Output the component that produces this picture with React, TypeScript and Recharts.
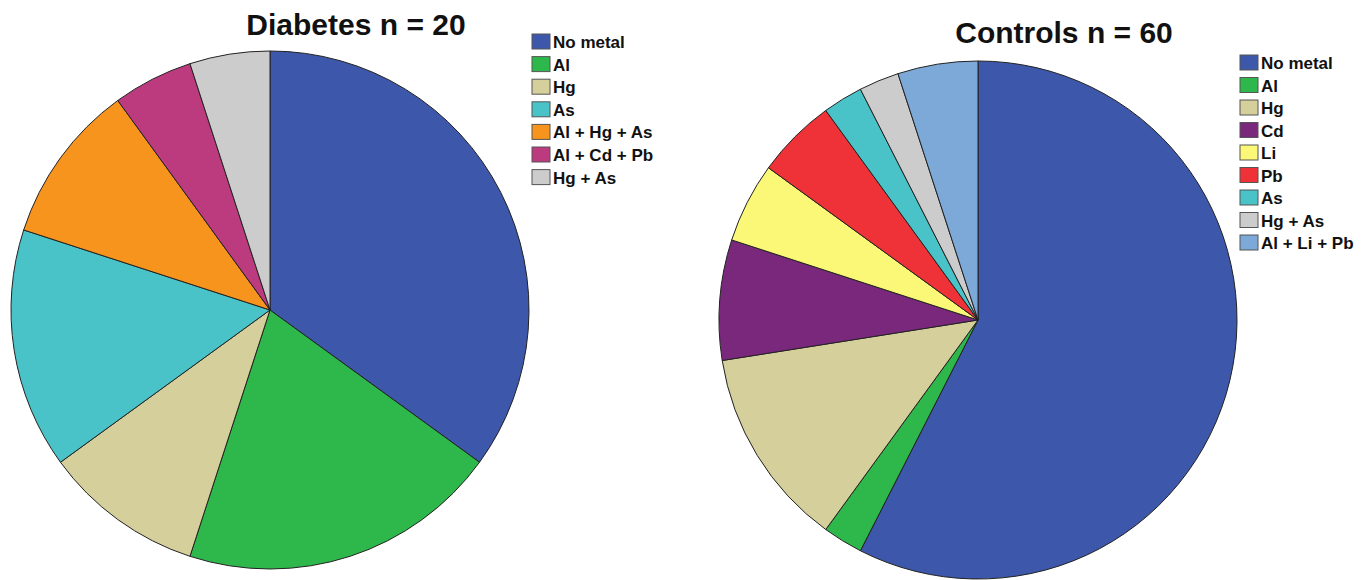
import React from 'react'
import { PieChart, Pie, Cell } from 'recharts'

// Diabetes group, percent of 20
const diabetesLabels = ['No metal', 'Al', 'Hg', 'As', 'Al + Hg + As', 'Al + Cd + Pb', 'Hg + As']
const diabetesValues = [35, 20, 10, 15, 10, 5, 5]
const diabetesColors = ['#3D58AB', '#2EB84B', '#D5CF9B', '#49C3C8', '#F7941E', '#BC3B7F', '#CCCCCC']

// Controls group, percent of 60
const controlLabels = ['No metal', 'Al', 'Hg', 'Cd', 'Li', 'Pb', 'As', 'Hg + As', 'Al + Li + Pb']
const controlValues = [57.5, 2.5, 12.5, 7.5, 5, 5, 2.5, 2.5, 5]
const controlColors = ['#3D58AB', '#2EB84B', '#D5CF9B', '#7A287C', '#FCF877', '#EE3237', '#49C3C8', '#CCCCCC', '#7DA9D8']

const W = 1369
const H = 580
const FONT = '"Liberation Sans", Arial, sans-serif'

const diabetesData = diabetesLabels.map((name, i) => ({ name, value: diabetesValues[i] }))
const controlData = controlLabels.map((name, i) => ({ name, value: controlValues[i] }))

function Legend({ x, y, labels, colors, step }: { x: number; y: number; labels: string[]; colors: string[]; step: number }) {
  return (
    <g>
      {labels.map((label, i) => (
        <g key={label} transform={`translate(${x}, ${y + i * step})`}>
          <rect x={0} y={0} width={18} height={15} fill={colors[i]} stroke="#555" strokeWidth={1} />
          <text x={21} y={14} fontFamily={FONT} fontWeight="bold" fontSize={17} fill="#111">
            {label}
          </text>
        </g>
      ))}
    </g>
  )
}

export default function App() {
  return (
    <div style={{ position: 'absolute', left: 0, top: 0, width: W, height: H, background: '#fff' }}>
      <PieChart width={W} height={H} margin={{ top: 0, right: 0, bottom: 0, left: 0 }}>
        <Pie
          data={diabetesData}
          dataKey="value"
          cx={270}
          cy={310}
          outerRadius={259}
          startAngle={90}
          endAngle={-270}
          stroke="#222"
          strokeWidth={1}
          isAnimationActive={false}
        >
          {diabetesData.map((d, i) => (
            <Cell key={d.name} fill={diabetesColors[i]} />
          ))}
        </Pie>
        <Pie
          data={controlData}
          dataKey="value"
          cx={978}
          cy={320}
          outerRadius={259}
          startAngle={90}
          endAngle={-270}
          stroke="#222"
          strokeWidth={1}
          isAnimationActive={false}
        >
          {controlData.map((d, i) => (
            <Cell key={d.name} fill={controlColors[i]} />
          ))}
        </Pie>
      </PieChart>

      {/* titles and legends */}
      <svg width={W} height={H} style={{ position: 'absolute', left: 0, top: 0, pointerEvents: 'none' }}>
        <text x={356} y={35} textAnchor="middle" fontFamily={FONT} fontWeight="bold" fontSize={30} fill="#111">
          Diabetes n = 20
        </text>
        <text x={1064} y={43} textAnchor="middle" fontFamily={FONT} fontWeight="bold" fontSize={30} fill="#111">
          Controls n = 60
        </text>
        <Legend x={532} y={34} labels={diabetesLabels} colors={diabetesColors} step={22.6} />
        <Legend x={1240} y={55} labels={controlLabels} colors={controlColors} step={22.5} />
      </svg>
    </div>
  )
}
